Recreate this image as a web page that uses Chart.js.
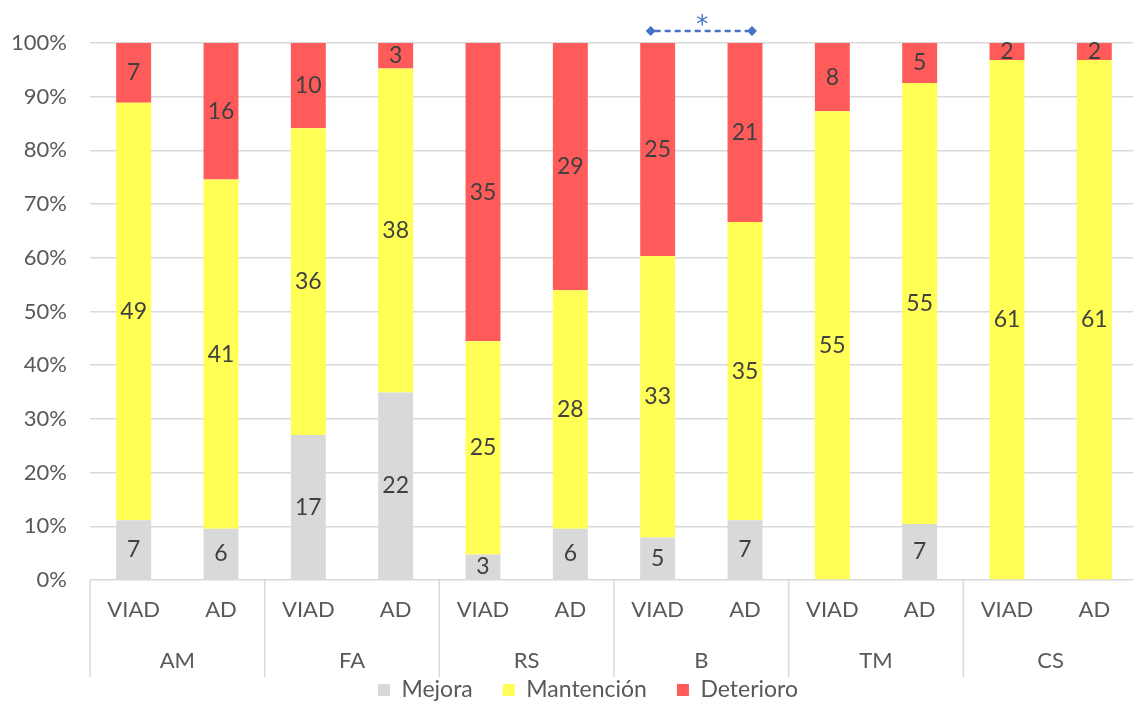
<!DOCTYPE html>
<html>
<head>
<meta charset="utf-8">
<script src="https://cdn.jsdelivr.net/npm/chart.js@4.4.1/dist/chart.umd.min.js"></script>
<style>
  html, body { margin: 0; padding: 0; background: #ffffff; overflow: hidden; }
  #wrap { width: 1140px; height: 702px; }
</style>
</head>
<body>
<div id="wrap"><canvas id="chart" width="1140" height="702"></canvas></div>
<script>
// Domains and the two groups compared within each one
const groups = ['AM', 'FA', 'RS', 'B', 'TM', 'CS'];
const subgroups = ['VIAD', 'AD'];

// Counts per bar (order: AM VIAD, AM AD, FA VIAD, FA AD, ... CS AD)
const mejora     = [7, 6, 17, 22, 3, 6, 5, 7, 0, 7, 0, 0];
const mantencion = [49, 41, 36, 38, 25, 28, 33, 35, 55, 55, 61, 61];
const deterioro  = [7, 16, 10, 3, 35, 29, 25, 21, 8, 5, 2, 2];

const yTicks = [0, 10, 20, 30, 40, 50, 60, 70, 80, 90, 100];

// Group pair marked as significant
const sigPair = [6, 7];
const sigMark = '*';

const barLabels = [];
groups.forEach(g => subgroups.forEach(s => barLabels.push(s)));

const totals = mejora.map((v, i) => v + mantencion[i] + deterioro[i]);
const pct = arr => arr.map((v, i) => v / totals[i] * 100);

const FONT = 'Lato, "Open Sans", sans-serif';
const TEXT = '#595959';
const LEGEND_SIZE = 23;

// Counts written in the middle of each segment
const segmentLabels = {
  id: 'segmentLabels',
  afterDatasetsDraw(chart) {
    const ctx = chart.ctx;
    ctx.save();
    ctx.font = '23px ' + FONT;
    ctx.fillStyle = '#404040';
    ctx.textAlign = 'center';
    ctx.textBaseline = 'middle';
    chart.data.datasets.forEach((ds, di) => {
      const meta = chart.getDatasetMeta(di);
      meta.data.forEach((bar, i) => {
        const n = ds.counts[i];
        if (!n) return;
        ctx.fillText(String(n), bar.x, (bar.y + bar.base) / 2);
      });
    });
    ctx.restore();
  }
};

// Second category level: group names with separators
const groupAxis = {
  id: 'groupAxis',
  afterDraw(chart) {
    const ctx = chart.ctx;
    const x = chart.scales.x;
    const area = chart.chartArea;
    const half = (x.getPixelForValue(1) - x.getPixelForValue(0)) / 2;
    ctx.save();
    ctx.strokeStyle = '#d9d9d9';
    ctx.lineWidth = 1.5;
    for (let g = 0; g <= groups.length; g++) {
      const px = g < groups.length
        ? x.getPixelForValue(g * 2) - half
        : x.getPixelForValue(g * 2 - 1) + half;
      ctx.beginPath();
      ctx.moveTo(px, area.bottom);
      ctx.lineTo(px, area.bottom + 97);
      ctx.stroke();
    }
    ctx.font = '22px ' + FONT;
    ctx.fillStyle = TEXT;
    ctx.textAlign = 'center';
    ctx.textBaseline = 'middle';
    groups.forEach((g, gi) => {
      const cx = (x.getPixelForValue(gi * 2) + x.getPixelForValue(gi * 2 + 1)) / 2;
      ctx.fillText(g, cx, area.bottom + 81);
    });
    ctx.restore();
  }
};

// Significance bracket above a pair of bars
const sigBracket = {
  id: 'sigBracket',
  afterDraw(chart) {
    const ctx = chart.ctx;
    const x = chart.scales.x;
    const x1 = x.getPixelForValue(sigPair[0]) - 7;
    const x2 = x.getPixelForValue(sigPair[1]) + 7;
    const y = chart.chartArea.top - 12;
    ctx.save();
    ctx.strokeStyle = '#4472C4';
    ctx.fillStyle = '#4472C4';
    ctx.lineWidth = 2.5;
    ctx.setLineDash([6, 4]);
    ctx.beginPath();
    ctx.moveTo(x1 + 4, y);
    ctx.lineTo(x2 - 4, y);
    ctx.stroke();
    ctx.setLineDash([]);
    [x1, x2].forEach(px => {
      ctx.beginPath();
      ctx.moveTo(px - 5, y);
      ctx.lineTo(px, y - 5);
      ctx.lineTo(px + 5, y);
      ctx.lineTo(px, y + 5);
      ctx.closePath();
      ctx.fill();
    });
    ctx.font = '24px "DejaVu Sans", sans-serif';
    ctx.textAlign = 'center';
    ctx.textBaseline = 'alphabetic';
    ctx.fillText(sigMark, (x1 + x2) / 2 + 1, y + 1);
    ctx.restore();
  }
};

// Place the legend row slightly right of centre and near the bottom edge
const legendPlacement = {
  id: 'legendPlacement',
  afterLayout(chart) {
    const lg = chart.legend;
    if (!lg) return;
    const dx = 588 - (lg.left + lg.right) / 2;
    const pad = lg.options.labels.padding;
    const dy = 690 - (lg.top + pad + LEGEND_SIZE / 2);
    lg.left += dx; lg.right += dx;
    lg.top += dy; lg.bottom += dy;
  }
};

const mk = (label, counts, color) => ({
  label,
  data: pct(counts),
  counts,
  backgroundColor: color,
  borderWidth: 0,
  barPercentage: 0.4,
  categoryPercentage: 1.0
});

new Chart(document.getElementById('chart'), {
  type: 'bar',
  data: {
    labels: barLabels,
    datasets: [
      mk('Mejora', mejora, '#d9d9d9'),
      mk('Mantención', mantencion, '#ffff55'),
      mk('Deterioro', deterioro, '#ff5b5b')
    ]
  },
  options: {
    responsive: false,
    animation: false,
    layout: { padding: { left: 0, right: 2, top: 43, bottom: 0 } },
    plugins: {
      tooltip: { enabled: false },
      legend: {
        position: 'bottom',
        labels: {
          font: { family: FONT, size: LEGEND_SIZE },
          color: TEXT,
          boxWidth: 12,
          boxHeight: 12,
          padding: 30
        }
      }
    },
    scales: {
      x: {
        stacked: true,
        grid: { display: false, drawTicks: false },
        border: { display: false },
        ticks: {
          font: { family: FONT, size: 22 },
          color: TEXT,
          padding: 17,
          maxRotation: 0,
          autoSkip: false
        },
        afterFit(scale) { scale.height = 59; }
      },
      y: {
        stacked: true,
        min: 0,
        max: 100,
        afterBuildTicks(scale) { scale.ticks = yTicks.map(v => ({ value: v })); },
        grid: { color: '#d9d9d9', lineWidth: 1.5, drawTicks: false },
        border: { display: false },
        ticks: {
          font: { family: FONT, size: 22 },
          color: TEXT,
          padding: 23,
          callback: v => v + '%'
        },
        afterFit(scale) { scale.width = 90; }
      }
    }
  },
  plugins: [segmentLabels, groupAxis, sigBracket, legendPlacement]
});
</script>
</body>
</html>
